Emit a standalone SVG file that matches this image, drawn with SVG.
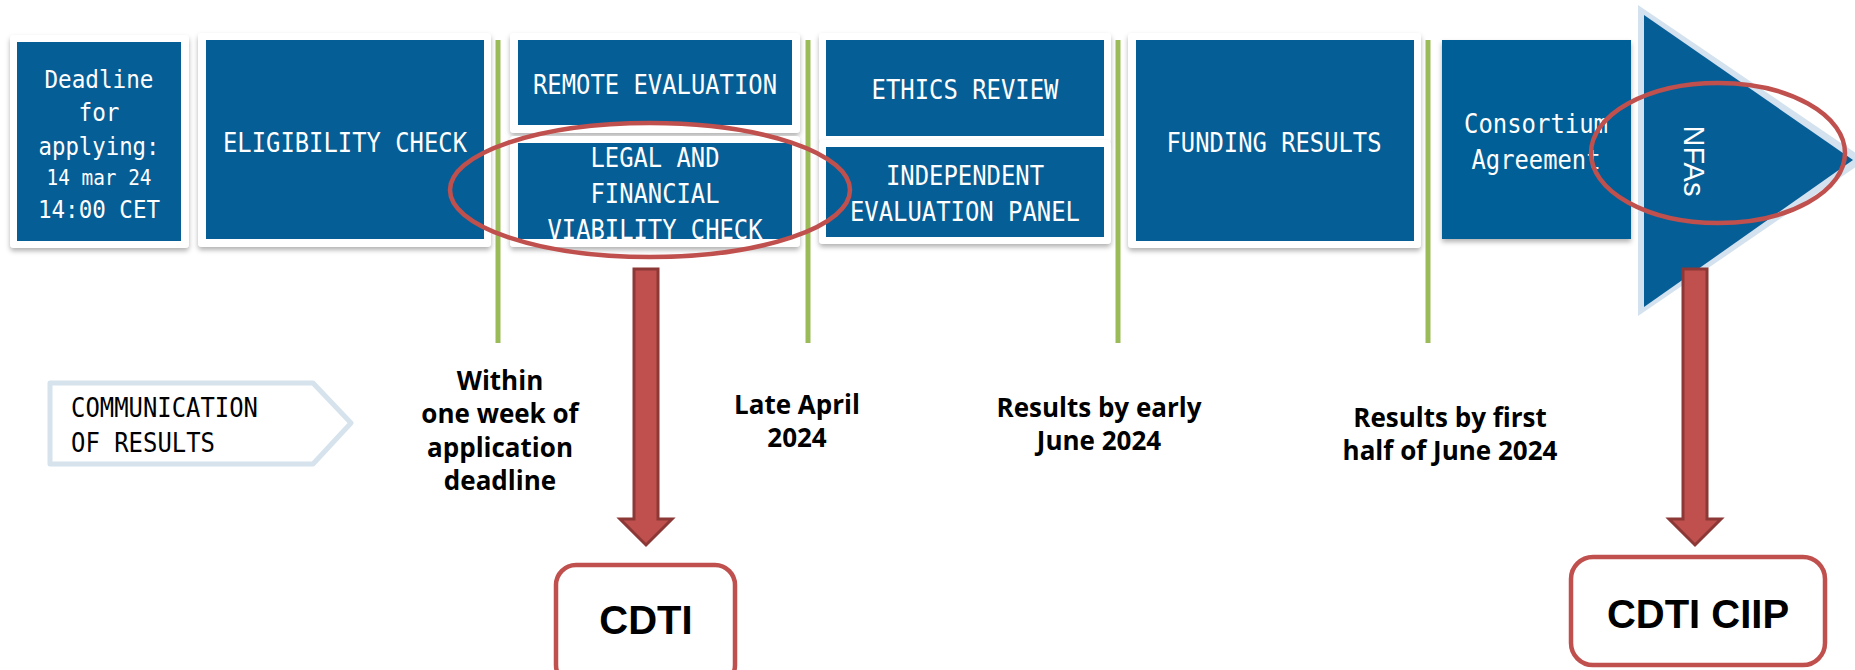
<svg xmlns="http://www.w3.org/2000/svg" width="1855" height="670" viewBox="0 0 1855 670">
<defs>
<filter id="sh" x="-10%" y="-10%" width="120%" height="130%">
<feDropShadow dx="0" dy="3" stdDeviation="2.5" flood-color="#000" flood-opacity="0.3"/>
</filter>
<clipPath id="clipLegal"><rect x="518" y="143" width="274" height="96"/></clipPath>
<style>
.card{fill:#fff;filter:url(#sh)}
.blue{fill:#065e96}
.w{font-family:"DejaVu Sans Mono","Liberation Mono",monospace;fill:#fff;text-anchor:middle;font-size:27px}
.k{font-family:"DejaVu Sans Mono","Liberation Mono",monospace;fill:#000;font-size:27px}
.g{stroke:#9bbb59;stroke-width:5}
.lbl{font-family:"Open Sans","Noto Sans",sans-serif;font-weight:700;font-size:26px;fill:#000;text-anchor:middle}
.ell{fill:none;stroke:#c0504d;stroke-width:4.5}
.arr{fill:#c0504d;stroke:#8c3836;stroke-width:3;stroke-linejoin:miter}
.rbox{fill:#fff;stroke:#c0504d;stroke-width:4.5}
.big{font-family:"Liberation Sans",Arial,sans-serif;font-weight:700;font-size:40px;fill:#000;text-anchor:middle}
</style>
</defs>
<rect width="1855" height="670" fill="#fff"/>

<g id="timeline-lines">
<line class="g" x1="498" y1="40" x2="498" y2="343"/>
<line class="g" x1="808" y1="40" x2="808" y2="343"/>
<line class="g" x1="1118" y1="40" x2="1118" y2="343"/>
<line class="g" x1="1428" y1="40" x2="1428" y2="343"/>
</g>

<g id="deadline">
<rect class="card" x="10" y="35" width="179" height="213" rx="4"/>
<rect class="blue" x="17" y="42" width="164" height="199"/>
<text class="w" x="99" y="88" style="font-size:25.5px" textLength="109" lengthAdjust="spacingAndGlyphs">Deadline</text>
<text class="w" x="99" y="121" style="font-size:25.5px" textLength="41" lengthAdjust="spacingAndGlyphs">for</text>
<text class="w" x="99" y="155" style="font-size:25.5px" textLength="121" lengthAdjust="spacingAndGlyphs">applying:</text>
<text class="w" x="99" y="185" style="font-size:21.5px" textLength="105" lengthAdjust="spacingAndGlyphs">14 mar 24</text>
<text class="w" x="99" y="218" style="font-size:25.5px" textLength="122" lengthAdjust="spacingAndGlyphs">14:00 CET</text>
</g>

<g id="eligibility">
<rect class="card" x="198" y="33" width="293" height="214" rx="4"/>
<rect class="blue" x="206" y="40" width="278" height="199"/>
<text class="w" x="345" y="152" textLength="244" lengthAdjust="spacingAndGlyphs">ELIGIBILITY CHECK</text>
</g>

<g id="remote">
<rect class="card" x="510" y="33" width="290" height="100" rx="4"/>
<rect class="blue" x="518" y="40" width="274" height="85"/>
<text class="w" x="655" y="94" textLength="244" lengthAdjust="spacingAndGlyphs">REMOTE EVALUATION</text>
</g>

<g id="legal">
<rect class="card" x="510" y="136" width="290" height="111" rx="4"/>
<rect class="blue" x="518" y="143" width="274" height="96"/>
<g clip-path="url(#clipLegal)">
<text class="w" x="655" y="167" textLength="129" lengthAdjust="spacingAndGlyphs">LEGAL AND</text>
<text class="w" x="655" y="203" textLength="129" lengthAdjust="spacingAndGlyphs">FINANCIAL</text>
<text class="w" x="655" y="239" textLength="215" lengthAdjust="spacingAndGlyphs">VIABILITY CHECK</text>
</g>
</g>

<g id="ethics">
<rect class="card" x="819" y="33" width="292" height="110" rx="4"/>
<rect class="blue" x="826" y="40" width="278" height="96"/>
<text class="w" x="965" y="99" textLength="187" lengthAdjust="spacingAndGlyphs">ETHICS REVIEW</text>
</g>

<g id="panel">
<rect class="card" x="819" y="140" width="292" height="104" rx="4"/>
<rect class="blue" x="826" y="147" width="278" height="90"/>
<text class="w" x="965" y="185" textLength="158" lengthAdjust="spacingAndGlyphs">INDEPENDENT</text>
<text class="w" x="965" y="221" textLength="230" lengthAdjust="spacingAndGlyphs">EVALUATION PANEL</text>
</g>

<g id="funding">
<rect class="card" x="1128" y="33" width="293" height="215" rx="4"/>
<rect class="blue" x="1136" y="40" width="278" height="201"/>
<text class="w" x="1274" y="152" textLength="215" lengthAdjust="spacingAndGlyphs">FUNDING RESULTS</text>
</g>

<g id="consortium">
<rect class="blue" x="1442" y="40" width="189" height="199" filter="url(#sh)"/>
<text class="w" x="1536" y="133" textLength="144" lengthAdjust="spacingAndGlyphs">Consortium</text>
<text class="w" x="1536" y="169" textLength="129" lengthAdjust="spacingAndGlyphs">Agreement</text>
</g>

<g id="nfas">
<polygon points="1638,5 1638,316 1866,160" fill="#d3e2ee"/>
<polygon class="blue" points="1644,15 1644,307 1853,160"/>
<text x="1684" y="161" transform="rotate(90 1684 161)" font-family="Liberation Sans, Arial, sans-serif" font-size="29" fill="#fff" text-anchor="middle">NFAs</text>
</g>

<g id="communication">
<polygon points="50,383 313,383 351,423 313,464 50,464" fill="#fff" stroke="#d6e3ed" stroke-width="5" stroke-linejoin="round"/>
<text class="k" x="71" y="417" textLength="187" lengthAdjust="spacingAndGlyphs">COMMUNICATION</text>
<text class="k" x="71" y="452" textLength="144" lengthAdjust="spacingAndGlyphs">OF RESULTS</text>
</g>

<g id="dates">
<text class="lbl" x="500" y="390">Within</text>
<text class="lbl" x="500" y="423">one week of</text>
<text class="lbl" x="500" y="457">application</text>
<text class="lbl" x="500" y="490">deadline</text>
<text class="lbl" x="797" y="414">Late April</text>
<text class="lbl" x="797" y="447">2024</text>
<text class="lbl" x="1099" y="417">Results by early</text>
<text class="lbl" x="1099" y="450">June 2024</text>
<text class="lbl" x="1450" y="427">Results by first</text>
<text class="lbl" x="1450" y="460">half of June 2024</text>
</g>

<g id="connectors">
<ellipse class="ell" cx="650" cy="190" rx="200" ry="67"/>
<ellipse class="ell" cx="1718" cy="153" rx="127" ry="70"/>
<polygon class="arr" points="634,269 658,269 658,519 672,519 646,545 620,519 634,519"/>
<polygon class="arr" points="1683,269 1707,269 1707,519 1721,519 1695,545 1669,519 1683,519"/>
</g>

<g id="cdti">
<rect class="rbox" x="556" y="565" width="179" height="120" rx="20"/>
<text class="big" x="646" y="634">CDTI</text>
</g>

<g id="cdti-ciip">
<rect class="rbox" x="1571" y="557" width="254" height="108" rx="22"/>
<text class="big" x="1698" y="628">CDTI CIIP</text>
</g>
</svg>
